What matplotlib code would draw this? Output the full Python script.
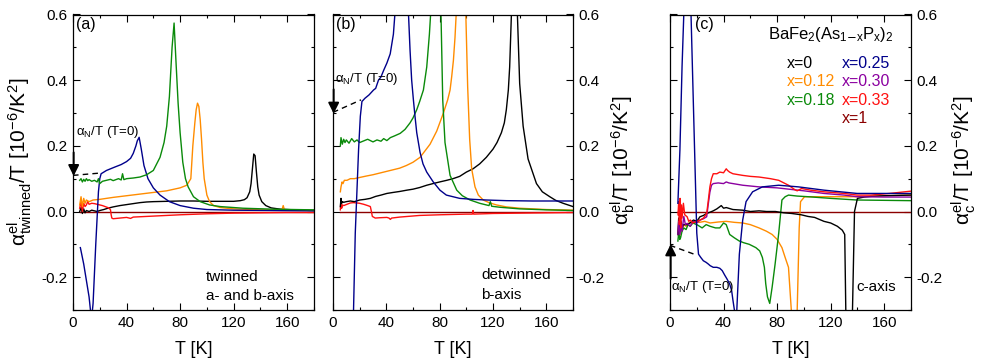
import matplotlib
matplotlib.use('Agg')
import matplotlib.pyplot as plt
from matplotlib.ticker import MultipleLocator

plt.rcParams['font.family'] = ['Liberation Sans', 'DejaVu Sans']
plt.rcParams['mathtext.fontset'] = 'custom'
plt.rcParams['mathtext.rm'] = 'Liberation Sans'
plt.rcParams['mathtext.it'] = 'Liberation Sans:italic'
plt.rcParams['mathtext.default'] = 'regular'
plt.rcParams['axes.unicode_minus'] = False

# ---------------- colours per composition ----------------
series_names = ['x=0', 'x=0.12', 'x=0.18', 'x=0.25', 'x=0.30', 'x=0.33', 'x=1']
series_colors = ['#000000', '#ff8c00', '#0a8a0a', '#00008b', '#8b00a0', '#ff1010', '#8b0000']

# ---------------- panel (a): twinned ----------------
a_T_x0 = [5, 6, 7, 8, 9, 10, 12, 14, 16, 18, 20, 23, 26, 30, 35, 40, 45, 50, 55, 60, 70, 80, 90, 100, 110, 120,
          125, 128, 130, 132, 133, 134, 135, 136, 137, 138, 139, 141, 144, 148, 155, 165, 180]
a_y_x0 = [0.0, 0.012, -0.006, 0.008, -0.004, 0.003, 0.0, 0.004, 0.002, 0.0, 0.003, 0.006, 0.01, 0.014, 0.018, 0.021,
          0.024, 0.027, 0.029, 0.03, 0.031, 0.032, 0.032, 0.031, 0.031, 0.031, 0.033, 0.036, 0.042, 0.06, 0.085, 0.13,
          0.175, 0.17, 0.12, 0.075, 0.05, 0.03, 0.018, 0.011, 0.007, 0.005, 0.003]

a_T_x012 = [5, 6, 7, 8, 9, 10, 12, 15, 20, 30, 40, 50, 60, 70, 80, 85, 88, 89.5, 91, 92, 93, 94, 95, 96, 97, 98,
            100, 102, 105, 110, 120, 140, 156, 157, 158, 160, 180]
a_y_x012 = [0.02, 0.045, 0.015, 0.04, 0.025, 0.035, 0.03, 0.035, 0.037, 0.043, 0.048, 0.053, 0.058, 0.063, 0.072,
            0.08, 0.1, 0.2, 0.27, 0.31, 0.33, 0.32, 0.28, 0.22, 0.15, 0.1, 0.05, 0.03, 0.018, 0.012, 0.008, 0.005,
            0.004, 0.018, 0.004, 0.004, 0.003]

a_T_x018 = [5, 6, 7, 8, 9, 10, 11, 12, 14, 16, 18, 19, 20, 22, 25, 28, 30, 34, 36, 37, 38, 40, 45, 50, 55, 60, 65,
            68, 70, 72, 74, 75.5, 77, 78.5, 80, 82, 84, 86, 90, 95, 102, 110, 127, 150, 180]
a_y_x018 = [0.095, 0.1, 0.09, 0.098, 0.092, 0.1, 0.094, 0.097, 0.092, 0.095, 0.09, 0.1, 0.085, 0.092, 0.095, 0.098,
            0.094, 0.1, 0.096, 0.115, 0.097, 0.1, 0.102, 0.105, 0.112, 0.125, 0.165, 0.21, 0.26, 0.35, 0.5, 0.574,
            0.45, 0.33, 0.24, 0.15, 0.1, 0.075, 0.045, 0.03, 0.02, 0.015, 0.01, 0.007, 0.005]

a_T_x025 = [5.5, 8, 10, 12, 13.8, 15, 16, 17, 18, 19, 20, 21, 25, 31, 36, 40, 43, 45, 47, 48, 49.4, 51, 53, 56, 60,
            65, 72, 80, 90, 100, 120, 150, 180]
a_y_x025 = [-0.11, -0.16, -0.21, -0.26, -0.33, -0.28, -0.19, -0.1, -0.02, 0.06, 0.1, 0.115, 0.125, 0.135, 0.143,
            0.152, 0.162, 0.177, 0.2, 0.215, 0.226, 0.19, 0.14, 0.1, 0.072, 0.05, 0.03, 0.018, 0.01, 0.006, 0.004,
            0.003, 0.002]

a_T_x033 = [5, 6, 7, 8, 9, 10, 11, 12, 14, 16, 18, 20, 22, 24, 26, 27, 28, 28.5, 29, 30, 35, 40, 43, 45, 50, 60,
            80, 100, 120, 140, 160, 180]
a_y_x033 = [0.01, 0.03, 0.0, 0.025, 0.015, 0.02, 0.03, 0.022, 0.025, 0.024, 0.022, 0.02, 0.018, 0.015, 0.012, 0.01,
            0.005, -0.01, -0.02, -0.022, -0.02, -0.018, -0.021, -0.017, -0.016, -0.014, -0.01, -0.007, -0.005,
            -0.004, -0.003, -0.003]

a_T_x1 = [5, 180]
a_y_x1 = [0.0, 0.0]

a_dash_T = [0, 20]
a_dash_y = [0.11, 0.117]

# ---------------- panel (b): detwinned b-axis ----------------
b_T_x0 = [5.5, 6, 6.5, 7, 8, 10, 13, 16, 20, 24, 28, 32, 36, 40.4, 45, 50, 55.4, 60, 65, 70.3, 75, 80, 85.3, 90,
          95, 100, 105, 110, 115, 120, 123, 126.3, 128.5, 130, 131.5, 132.5, 133.8, 136, 138.3, 140, 142.6, 146.3,
          152.6, 157, 162.6, 167, 172.6, 180]
b_y_x0 = [0.015, 0.04, 0.025, 0.03, 0.028, 0.03, 0.032, 0.03, 0.035, 0.037, 0.04, 0.046, 0.05, 0.055, 0.058, 0.061,
          0.065, 0.068, 0.073, 0.08, 0.085, 0.09, 0.095, 0.1, 0.107, 0.12, 0.13, 0.145, 0.165, 0.19, 0.21, 0.24,
          0.27, 0.31, 0.37, 0.44, 0.6, 1.5, 0.6, 0.39, 0.26, 0.16, 0.085, 0.06, 0.045, 0.034, 0.025, 0.015]

b_T_x012 = [5.5, 6, 6.8, 7.5, 8.5, 10.5, 13, 16, 20.4, 25, 30, 35, 40, 45, 50, 55, 60, 65.3, 70, 72.8, 77.8, 82.8,
            86, 87.8, 89, 90.3, 91.5, 92.5, 96, 99.5, 101, 102.5, 104, 106.5, 109, 112.7, 117, 122.6, 130, 140, 160,
            180]
b_y_x012 = [0.06, 0.075, 0.09, 0.085, 0.095, 0.095, 0.1, 0.1, 0.104, 0.108, 0.112, 0.117, 0.122, 0.127, 0.132,
            0.14, 0.15, 0.165, 0.19, 0.205, 0.245, 0.3, 0.34, 0.37, 0.41, 0.46, 0.53, 0.61, 1.5, 0.62, 0.38, 0.22,
            0.13, 0.075, 0.05, 0.035, 0.027, 0.02, 0.014, 0.01, 0.006, 0.004]

b_T_x018 = [5.5, 6, 7, 8, 9, 10, 12, 14, 16, 18, 20, 23, 26, 30, 33, 36, 38, 40.4, 43, 46, 50.4, 54, 57.8, 60,
            62.8, 65, 67.8, 70.3, 72.3, 73.8, 77, 80.8, 82.3, 84, 87.8, 92.8, 97, 102.8, 110, 117, 118, 119, 125,
            140, 160, 180]
b_y_x018 = [0.2, 0.225, 0.205, 0.22, 0.21, 0.218, 0.208, 0.222, 0.212, 0.218, 0.21, 0.215, 0.22, 0.212, 0.218,
            0.214, 0.222, 0.216, 0.225, 0.23, 0.238, 0.25, 0.27, 0.285, 0.31, 0.335, 0.37, 0.44, 0.54, 0.64, 1.5,
            0.64, 0.34, 0.21, 0.11, 0.065, 0.048, 0.035, 0.025, 0.018, 0.03, 0.016, 0.013, 0.008, 0.005, 0.003]

b_T_x025 = [14.5, 15.4, 16.7, 19.2, 20.5, 21.7, 24, 27, 30.4, 32, 34.1, 36, 38, 40.4, 42.9, 45.3, 47.5, 52, 56,
            57.8, 59, 60.3, 61.5, 62.8, 65.3, 67.5, 70.3, 75.2, 80.2, 85, 90, 95, 105, 115, 130, 150, 180]
b_y_x025 = [-0.45, -0.3, -0.066, 0.19, 0.29, 0.335, 0.345, 0.355, 0.37, 0.375, 0.4, 0.41, 0.43, 0.452, 0.48, 0.54,
            0.66, 1.5, 0.66, 0.49, 0.4, 0.34, 0.29, 0.24, 0.18, 0.145, 0.12, 0.09, 0.065, 0.05, 0.045, 0.04, 0.037,
            0.035, 0.033, 0.032, 0.032]

b_T_x033 = [5.5, 6, 6.5, 7, 8, 10.5, 13, 15.4, 18, 20, 23, 26, 28, 28.8, 29.5, 31.7, 35, 40.4, 42, 43, 44, 50, 65,
            80, 100, 104.5, 105, 105.5, 120, 140, 160, 180]
b_y_x033 = [0.005, 0.035, 0.01, 0.02, 0.018, 0.022, 0.026, 0.027, 0.026, 0.025, 0.022, 0.018, 0.015, 0.0, -0.015,
            -0.02, -0.019, -0.018, -0.02, -0.024, -0.02, -0.017, -0.012, -0.01, -0.008, -0.008, 0.003, -0.008,
            -0.006, -0.005, -0.004, -0.003]

b_T_x1 = [5, 180]
b_y_x1 = [0.0, 0.0]

b_dash_T = [0, 21]
b_dash_y = [0.302, 0.34]

# ---------------- panel (c): c-axis ----------------
c_T_x0 = [5.9, 6.5, 7.4, 8.3, 9, 10, 12.8, 15, 17.5, 20, 22.4, 25, 27.4, 30, 32.3, 35, 38.3, 40, 42, 47, 54.3, 60,
          66.5, 72, 78.7, 85, 90.9, 98, 103, 108, 115, 120, 125, 128.7, 130.5, 131.3, 133.5, 136.3, 137.8, 140,
          145, 150, 160, 170, 180]
c_y_x0 = [-0.07, -0.02, -0.06, -0.03, -0.05, -0.04, -0.04, -0.035, -0.026, -0.03, -0.016, -0.012, -0.006, -0.002,
          0.002, 0.008, 0.018, 0.01, 0.012, 0.006, 0.004, 0.0, 0.002, 0.0, 0.0, -0.004, -0.006, -0.01, -0.015,
          -0.018, -0.03, -0.035, -0.045, -0.057, -0.07, -0.3, -0.6, -0.3, 0.0, 0.04, 0.044, 0.046, 0.048, 0.049,
          0.05]

c_T_x012 = [5.9, 6.5, 7.2, 7.9, 9, 10.3, 12, 14, 17.6, 22, 26, 29.9, 36, 42, 48, 54.4, 60, 66.5, 72, 76.3, 80,
            83.6, 86, 88.5, 90.6, 93, 95, 96.5, 97.5, 100.5, 110, 125, 139.7, 160, 180]
c_y_x012 = [-0.07, -0.04, -0.075, -0.05, -0.06, -0.04, -0.045, -0.035, -0.03, -0.033, -0.03, -0.035, -0.032, -0.03,
            -0.033, -0.035, -0.04, -0.05, -0.06, -0.07, -0.085, -0.11, -0.14, -0.17, -0.3, -0.5, -0.3, -0.05, 0.03,
            0.045, 0.045, 0.045, 0.045, 0.048, 0.05]

c_T_x018 = [5.9, 6.6, 7.3, 7.9, 9, 10.3, 12, 13.5, 15.2, 17, 20.1, 24, 27, 29.9, 34, 37.2, 40, 42, 44.6, 48, 51.8,
            55, 59.2, 64.1, 67, 69, 70.5, 71.5, 72.8, 74.5, 76.3, 78.5, 81.2, 83.6, 86, 88.5, 95, 103.2, 120, 139.7,
            160, 180]
c_y_x018 = [-0.09, -0.06, -0.085, -0.08, -0.06, -0.05, -0.055, -0.04, -0.045, -0.035, -0.04, -0.05, -0.04, -0.045,
            -0.05, -0.05, -0.035, -0.04, -0.07, -0.08, -0.09, -0.095, -0.1, -0.11, -0.12, -0.14, -0.17, -0.22, -0.26,
            -0.28, -0.23, -0.16, -0.066, 0.035, 0.045, 0.05, 0.047, 0.045, 0.04, 0.035, 0.034, 0.033]

c_T_x025 = [5.9, 7.4, 9.0, 10.3, 11, 13, 15.2, 15.7, 20.0, 21.3, 23, 24.9, 27, 28.6, 30, 32.3, 35, 37.2, 39, 40.9,
            42.5, 44.5, 46, 47.0, 48.1, 49, 49.9, 51.8, 54.3, 56.8, 61.7, 69.0, 81.2, 95.9, 115, 139.7, 160, 180]
c_y_x025 = [0.025, 0.187, 0.441, 0.6, 0.7, 1.2, 0.66, 0.6, -0.066, -0.13, -0.14, -0.15, -0.155, -0.16, -0.165,
            -0.17, -0.17, -0.173, -0.18, -0.194, -0.205, -0.22, -0.24, -0.27, -0.3, -0.4, -0.3, -0.13, -0.026, 0.03,
            0.06, 0.075, 0.08, 0.075, 0.065, 0.055, 0.055, 0.055]

c_T_x030 = [5.9, 6.5, 7.4, 8.3, 9, 10.3, 11.5, 12.8, 15, 17.5, 20, 22.4, 25, 27.4, 28.5, 29.8, 31, 32.3, 36, 40, 42,
            44, 47, 54.3, 66.5, 80, 90.9, 100, 115, 130, 139.7, 160, 180]
c_y_x030 = [-0.07, -0.03, -0.07, -0.04, -0.06, -0.015, -0.04, -0.036, -0.045, -0.03, -0.035, -0.026, -0.022,
            -0.016, 0.02, 0.059, 0.08, 0.085, 0.087, 0.085, 0.09, 0.087, 0.085, 0.08, 0.075, 0.072, 0.067, 0.063,
            0.055, 0.05, 0.045, 0.044, 0.044]

c_T_x033 = [6.0, 6.5, 7.0, 7.5, 8.0, 8.5, 9.0, 10, 11, 12.8, 14, 15.2, 17, 20.1, 23, 25, 27.4, 28.5, 29.8, 31, 32.3,
            35, 37.2, 40, 42, 43, 44.5, 47, 54.3, 60, 66.5, 75, 81.2, 88.5, 93.4, 95, 98.3, 105, 115, 130, 139.7,
            150, 164, 180]
c_y_x033 = [-0.01, 0.03, -0.04, 0.04, -0.05, 0.02, -0.02, 0.025, -0.01, -0.016, -0.03, -0.026, -0.035, -0.03,
            -0.025, -0.02, -0.006, 0.03, 0.075, 0.1, 0.115, 0.115, 0.12, 0.118, 0.13, 0.125, 0.12, 0.115, 0.11,
            0.107, 0.105, 0.1, 0.095, 0.08, 0.066, 0.063, 0.07, 0.065, 0.06, 0.055, 0.05, 0.05, 0.055, 0.062]

c_T_x1 = [5, 180]
c_y_x1 = [0.0, 0.0]

c_dash_T = [0, 20]
c_dash_y = [-0.103, -0.133]

# ---------------- figure ----------------
W, H = 981, 364
fig = plt.figure(figsize=(W / 100, H / 100), dpi=100)
bot = (H - 310) / H
hgt = 295.5 / H
ax_a = fig.add_axes([73 / W, bot, 241 / W, hgt])
ax_b = fig.add_axes([333 / W, bot, 240 / W, hgt])
ax_c = fig.add_axes([670 / W, bot, 241 / W, hgt])


def style(ax, right_labels):
    ax.set_xlim(0, 180)
    ax.set_ylim(-0.3, 0.6)
    ax.xaxis.set_major_locator(MultipleLocator(40))
    ax.xaxis.set_minor_locator(MultipleLocator(20))
    ax.yaxis.set_major_locator(MultipleLocator(0.2))
    ax.yaxis.set_minor_locator(MultipleLocator(0.1))
    ax.yaxis.set_major_formatter(matplotlib.ticker.FormatStrFormatter('%.1f'))
    ax.tick_params(which='both', direction='in', top=True, right=True, left=True, bottom=True,
                   labelsize=11, width=0.8)
    ax.tick_params(which='major', length=5, pad=4)
    ax.tick_params(which='minor', length=2.5)
    if right_labels:
        ax.tick_params(labelleft=False, labelright=True)
    for s in ax.spines.values():
        s.set_linewidth(0.9)
    ax.set_xlabel('T [K]', fontsize=13, labelpad=8)


def draw(ax, sets):
    for T, y, name in sets:
        ax.plot(T, y, color=series_colors[series_names.index(name)], lw=1.0)


draw(ax_a, [(a_T_x1, a_y_x1, 'x=1'), (a_T_x0, a_y_x0, 'x=0'), (a_T_x033, a_y_x033, 'x=0.33'),
            (a_T_x012, a_y_x012, 'x=0.12'), (a_T_x025, a_y_x025, 'x=0.25'), (a_T_x018, a_y_x018, 'x=0.18')])
draw(ax_b, [(b_T_x1, b_y_x1, 'x=1'), (b_T_x033, b_y_x033, 'x=0.33'), (b_T_x0, b_y_x0, 'x=0'),
            (b_T_x012, b_y_x012, 'x=0.12'), (b_T_x018, b_y_x018, 'x=0.18'), (b_T_x025, b_y_x025, 'x=0.25')])
draw(ax_c, [(c_T_x1, c_y_x1, 'x=1'), (c_T_x012, c_y_x012, 'x=0.12'), (c_T_x018, c_y_x018, 'x=0.18'),
            (c_T_x0, c_y_x0, 'x=0'), (c_T_x030, c_y_x030, 'x=0.30'), (c_T_x033, c_y_x033, 'x=0.33'),
            (c_T_x025, c_y_x025, 'x=0.25')])

for ax, (dT, dy) in zip([ax_a, ax_b, ax_c], [(a_dash_T, a_dash_y), (b_dash_T, b_dash_y), (c_dash_T, c_dash_y)]):
    ax.plot(dT, dy, color='black', lw=1.0, dashes=(4, 3))

arrow_kw = dict(arrowstyle='-|>', color='black', lw=1.4, mutation_scale=16, shrinkA=0, shrinkB=0)
ax_a.annotate('', xy=(0.5, 0.108), xytext=(0.5, 0.18), arrowprops=arrow_kw, annotation_clip=False)
ax_b.annotate('', xy=(0.5, 0.298), xytext=(0.5, 0.372), arrowprops=arrow_kw, annotation_clip=False)
ax_c.annotate('', xy=(0.5, -0.1), xytext=(0.5, -0.205), arrowprops=arrow_kw, annotation_clip=False)

lab = r'$\alpha_N$/T (T=0)'
ax_a.text(2.2, 0.242, lab, fontsize=9.5, va='center', ha='left')
ax_b.text(1.7, 0.403, lab, fontsize=9.5, va='center', ha='left')
ax_c.text(0.8, -0.23, lab, fontsize=9.5, va='center', ha='left')

ax_a.text(2.5, 0.57, '(a)', fontsize=11.5, va='center', ha='left')
ax_b.text(2.5, 0.57, '(b)', fontsize=11.5, va='center', ha='left')
ax_c.text(18.5, 0.57, '(c)', fontsize=11.5, va='center', ha='left')

ax_a.text(99, -0.199, 'twinned', fontsize=11, va='center', ha='left')
ax_a.text(99, -0.258, 'a- and b-axis', fontsize=11, va='center', ha='left')
ax_b.text(111, -0.194, 'detwinned', fontsize=11, va='center', ha='left')
ax_b.text(111, -0.254, 'b-axis', fontsize=11, va='center', ha='left')
ax_c.text(139.5, -0.231, 'c-axis', fontsize=11, va='center', ha='left')

ax_c.text(73.5, 0.538, r'BaFe$_2$(As$_{1\mathsf{-}x}$P$_x$)$_2$', fontsize=12, va='center', ha='left')
leg_items = [('x=0', 87, 0.452), ('x=0.12', 87, 0.397), ('x=0.18', 87, 0.339),
             ('x=0.25', 128.5, 0.452), ('x=0.30', 128.5, 0.397), ('x=0.33', 128.5, 0.339), ('x=1', 128.5, 0.283)]
for name, tx, ty in leg_items:
    ax_c.text(tx, ty, name, fontsize=11.5, va='center', ha='left',
              color=series_colors[series_names.index(name)])

for ax in (ax_a, ax_b, ax_c):
    style(ax, ax is not ax_a)

fig.text(20 / W, 1 - 162 / H, r'$\alpha^{el}_{twinned}$/T [10$^{-6}$/K$^2$]', rotation=90,
         ha='center', va='center', fontsize=15)
fig.text(623 / W, 1 - 160 / H, r'$\alpha^{el}_{b}$/T [10$^{-6}$/K$^2$]', rotation=90,
         ha='center', va='center', fontsize=15)
fig.text(964 / W, 1 - 160 / H, r'$\alpha^{el}_{c}$/T [10$^{-6}$/K$^2$]', rotation=90,
         ha='center', va='center', fontsize=15)

fig.savefig('out.png', dpi=100)
